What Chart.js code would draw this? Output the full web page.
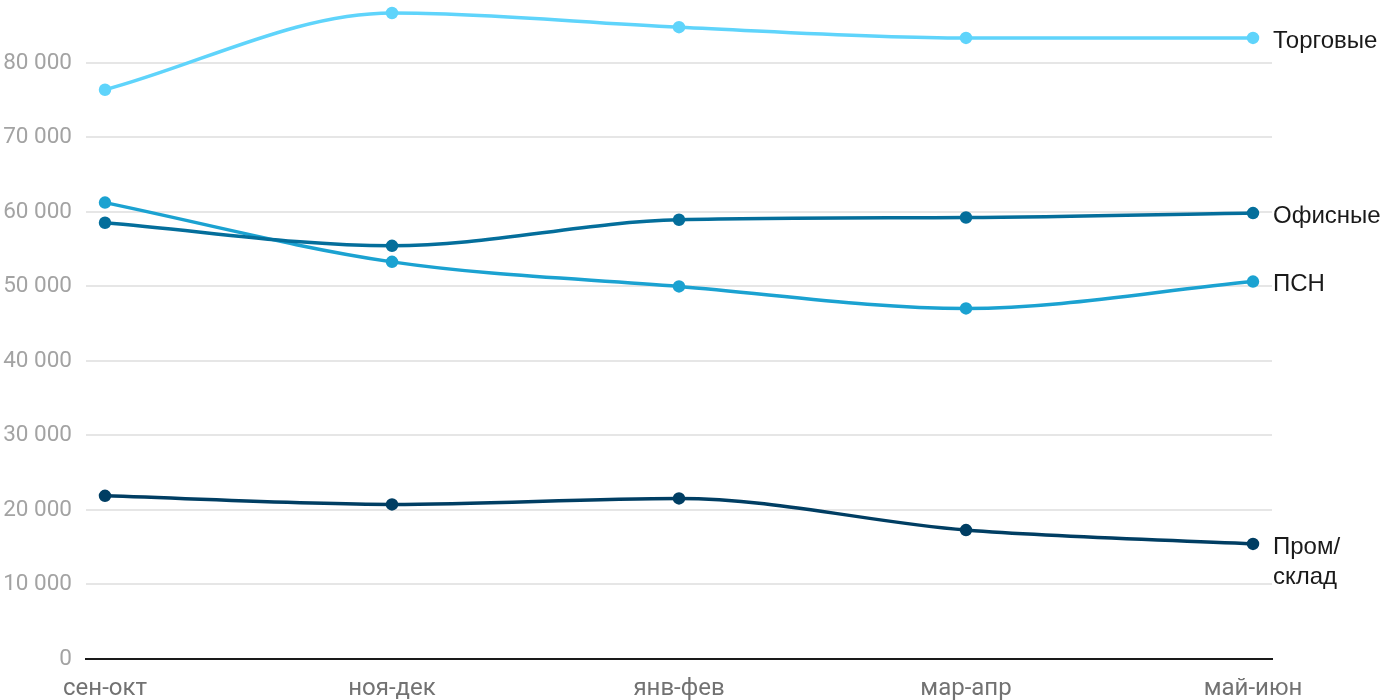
<!DOCTYPE html>
<html><head><meta charset="utf-8">
<script src="https://cdn.jsdelivr.net/npm/chart.js@4"></script>
<style>html,body{margin:0;padding:0;background:#fff}#wrap{width:1400px;height:700px}</style>
</head><body><div id="wrap"><canvas id="c" width="1400" height="700"></canvas></div>
<script>
const categories = ["сен-окт","ноя-дек","янв-фев","мар-апр","май-июн"];
const seriesNames = ["Торговые","Офисные","ПСН","Пром/\nсклад"];
const torgovye = [76400, 86700, 84800, 83350, 83350];
const ofisnye = [58550, 55450, 58950, 59250, 59850];
const psn = [61250, 53300, 50000, 47050, 50650];
const prom = [21900, 20750, 21550, 17300, 15450];
const yTicks = [0,10000,20000,30000,40000,50000,60000,70000,80000];
const colors = ["#5fd4fb","#046e9b","#1ba2d1","#003e63"];

const allSeries = [torgovye, ofisnye, psn, prom];
const datasets = allSeries.map((arr,i)=>({
  label: seriesNames[i],
  data: arr.map((v,j)=>({x:j,y:v})),
  borderColor: colors[i], backgroundColor: colors[i],
  borderWidth: 3.5, pointRadius: 4.5, pointHoverRadius: 4.5,
  cubicInterpolationMode: 'monotone', fill:false, clip:false
}));

const endLabels = {
  id:'endLabels',
  afterDatasetsDraw(chart){
    const ctx = chart.ctx;
    ctx.save();
    ctx.font = '24px "Liberation Sans", Arial, sans-serif';
    ctx.fillStyle = '#1a1a1a';
    ctx.textBaseline = 'middle';
    chart.data.datasets.forEach((ds,i)=>{
      const meta = chart.getDatasetMeta(i);
      const pt = meta.data[meta.data.length-1];
      const lines = ds.label.split('\n');
      const lh = 30;
      lines.forEach((ln,k)=>{
        ctx.fillText(ln, pt.x + 20, pt.y + 3 + k*lh);
      });
    });
    ctx.restore();
  }
};

new Chart(document.getElementById('c'), {
  type:'line',
  data:{datasets},
  plugins:[endLabels],
  options:{
    responsive:false, animation:false,
    layout:{padding:{top:2,right:128,left:0,bottom:0}},
    plugins:{legend:{display:false},tooltip:{enabled:false}},
    scales:{
      x:{type:'linear', min:-0.0662, max:4.0662,
        afterBuildTicks(s){ s.ticks = categories.map((c,i)=>({value:i})); },
        afterFit(s){ s.height = 41; s.paddingLeft = 0; s.paddingRight = 0; },
        grid:{display:false, drawTicks:false},
        border:{display:true,color:'#1a1a1a',width:2},
        ticks:{padding:16, color:'#727272', font:{family:'Roboto',size:24},
          callback:(v)=>categories[v] ?? '', maxRotation:0, autoSkip:false}
      },
      y:{min:0, max:87370,
        afterBuildTicks(s){ s.ticks = yTicks.map(v=>({value:v})); },
        afterFit(s){ s.width = 86; s.paddingTop = 0; s.paddingBottom = 0; },
        grid:{color:'#e6e6e6', lineWidth:2, drawTicks:false},
        border:{display:false},
        ticks:{padding:14, color:'#a3a3a3', font:{family:'Roboto',size:22.5},
          callback:(v)=>String(v).replace(/\B(?=(\d{3})+(?!\d))/g,' ')}
      }
    }
  }
});
</script></body></html>
